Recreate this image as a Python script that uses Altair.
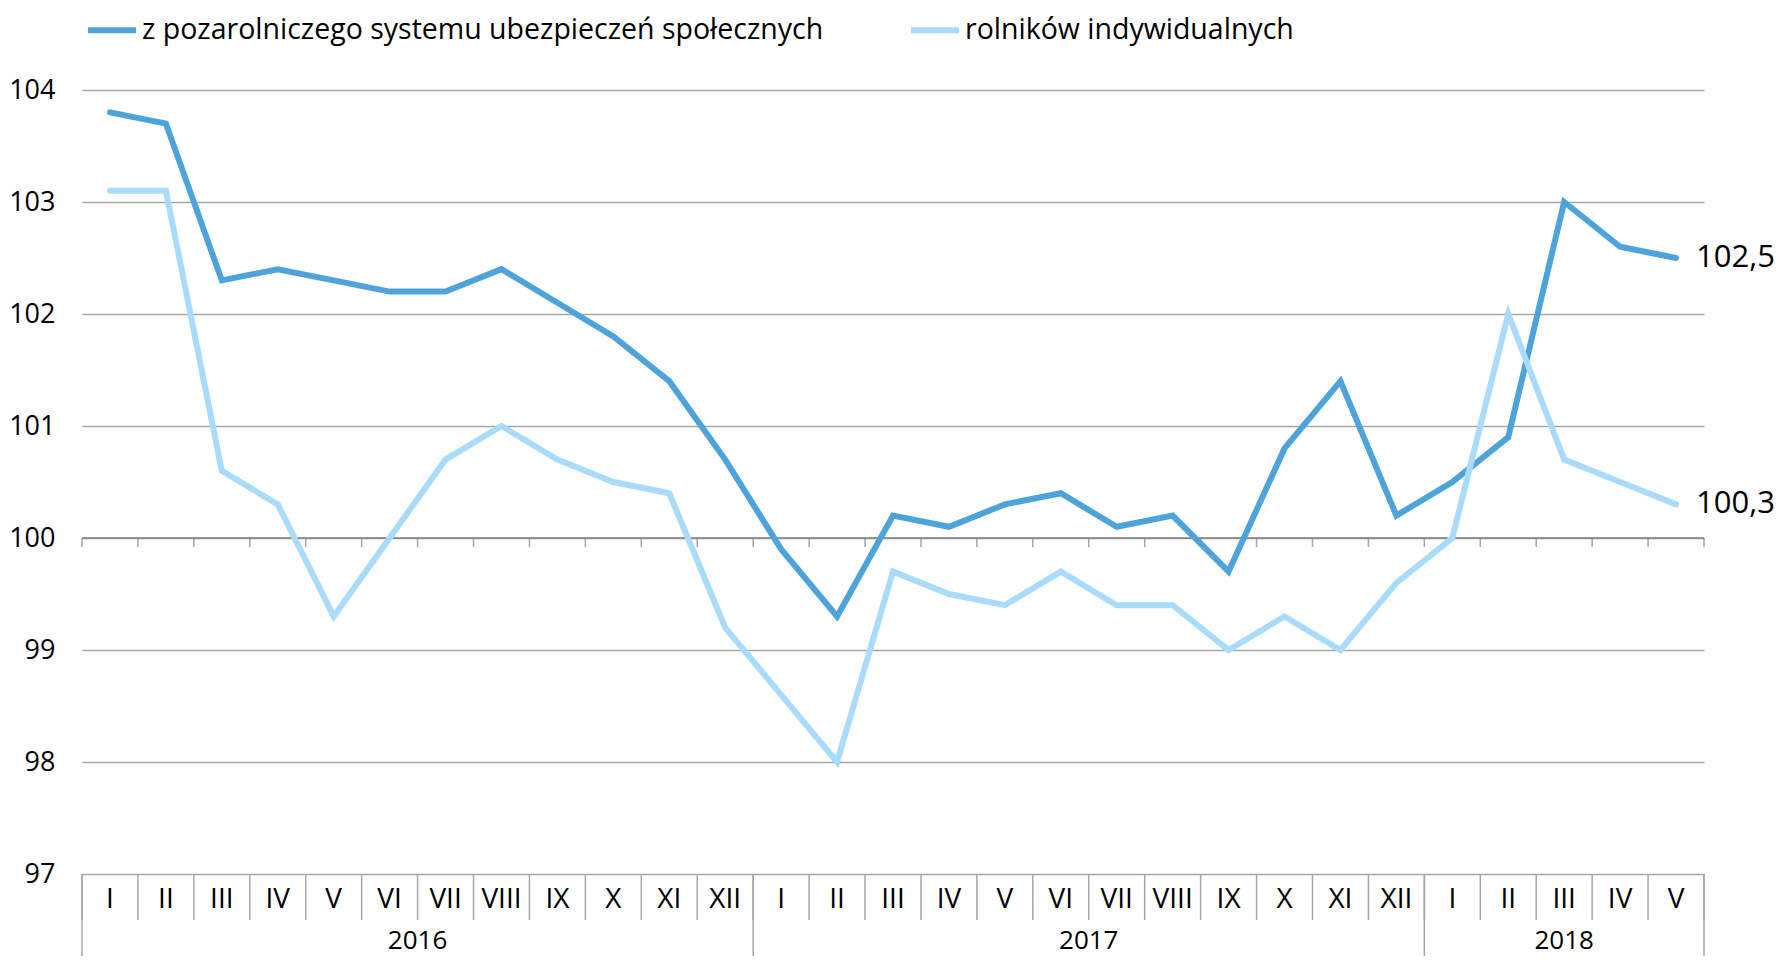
import altair as alt
import pandas as pd

FONT = "Open Sans"

months = ["I", "II", "III", "IV", "V", "VI", "VII", "VIII", "IX", "X", "XI", "XII",
          "I", "II", "III", "IV", "V", "VI", "VII", "VIII", "IX", "X", "XI", "XII",
          "I", "II", "III", "IV", "V"]
years = ["2016"] * 12 + ["2017"] * 12 + ["2018"] * 5

series_names = ["z pozarolniczego systemu ubezpieczeń społecznych", "rolników indywidualnych"]
series_colors = ["#4EA3DA", "#A9DBFD"]

nonagri = [103.8, 103.7, 102.3, 102.4, 102.3, 102.2, 102.2, 102.4, 102.1, 101.8, 101.4, 100.7,
           99.9, 99.3, 100.2, 100.1, 100.3, 100.4, 100.1, 100.2, 99.7, 100.8, 101.4, 100.2,
           100.5, 100.9, 103.0, 102.6, 102.5]
farmers = [103.1, 103.1, 100.6, 100.3, 99.3, 100.0, 100.7, 101.0, 100.7, 100.5, 100.4, 99.2,
           98.6, 98.0, 99.7, 99.5, 99.4, 99.7, 99.4, 99.4, 99.0, 99.3, 99.0, 99.6,
           100.0, 102.0, 100.7, 100.5, 100.3]

y_ticks = [97, 98, 99, 100, 101, 102, 103, 104]
baseline_value = 100

n = len(months)
rows = []
for k, (name, vals) in enumerate(zip(series_names, [nonagri, farmers])):
    for i, v in enumerate(vals):
        rows.append({"i": i, "month": months[i], "year": years[i],
                     "series": name, "order": k, "value": v})
df = pd.DataFrame(rows)
cats = pd.DataFrame({"i": list(range(n)), "month": months, "year": years})
bounds = pd.DataFrame({"b": [i - 0.5 for i in range(n + 1)]})
year_bounds = pd.DataFrame({"b": [-0.5] + [i + 0.5 for i in range(n - 1) if years[i] != years[i + 1]] + [n - 0.5]})

W, H = 1622, 784
GRID = "#A6A6A6"

x_scale = alt.Scale(domain=[-0.5, n - 0.5], nice=False, zero=False)
y_scale = alt.Scale(domain=[min(y_ticks), max(y_ticks)], nice=False, zero=False)

X = lambda f: alt.X(f, scale=x_scale, axis=None)

lines = alt.Chart(df).mark_line(strokeWidth=6, strokeCap="round").encode(
    x=X("i:Q"),
    y=alt.Y("value:Q", scale=y_scale,
            axis=alt.Axis(values=y_ticks, format="d", grid=True, gridColor=GRID, gridWidth=1.5,
                          domain=False, ticks=False, labelFontSize=27, labelPadding=27,
                          labelColor="black", labelFont=FONT, title=None)),
    color=alt.Color("series:N",
                    scale=alt.Scale(domain=series_names, range=series_colors),
                    legend=alt.Legend(orient="none", legendX=3, legendY=-87,
                                      direction="horizontal", title=None,
                                      symbolType="stroke", symbolSize=2304,
                                      symbolStrokeWidth=6, labelFontSize=28.5,
                                      labelFont=FONT, labelColor="black", labelLimit=0,
                                      columnPadding=75, labelOffset=3)),
    order=alt.Order("order:Q"),
    detail="series:N",
)

hundred = alt.Chart(pd.DataFrame({"v": [baseline_value]})).mark_rule(
    color="#7F7F7F", strokeWidth=1.5).encode(y=alt.Y("v:Q", scale=y_scale))

hundred_ticks = alt.Chart(bounds).mark_tick(
    orient="vertical", size=9, thickness=1.5, color="#7F7F7F", yOffset=4.5).encode(
    x=X("b:Q"), y=alt.Y(datum=baseline_value, scale=y_scale))

month_sep = alt.Chart(bounds).mark_rule(color=GRID, strokeWidth=1.5).encode(
    x=X("b:Q"), y=alt.value(H), y2=alt.value(H + 46))

year_sep = alt.Chart(year_bounds).mark_rule(color=GRID, strokeWidth=1.5).encode(
    x=X("b:Q"), y=alt.value(H), y2=alt.value(H + 90))

month_text = alt.Chart(cats).mark_text(fontSize=28, font=FONT, color="black",
                                       baseline="middle").encode(
    x=X("i:Q"), y=alt.value(H + 26), text="month:N")

year_text = alt.Chart(cats).transform_aggregate(
    c="mean(i)", groupby=["year"]).mark_text(fontSize=26, font=FONT, color="black",
                                             baseline="middle").encode(
    x=X("c:Q"), y=alt.value(H + 67), text="year:N")

end_labels = alt.Chart(df).transform_filter(
    alt.datum.i == n - 1).transform_calculate(
    lab="replace(format(datum.value, '.1f'), '.', ',')").mark_text(
    fontSize=31, font=FONT, color="black", align="left", baseline="middle", dx=20).encode(
    x=X("i:Q"), y=alt.Y("value:Q", scale=y_scale), text="lab:N")

chart = alt.layer(hundred, hundred_ticks, month_sep, year_sep, month_text, year_text,
                  lines, end_labels).properties(
    width=W, height=H,
    autosize=alt.AutoSizeParams(type="none"),
    padding={"left": 74, "top": 82, "right": 72, "bottom": 82},
    background="white",
).configure_view(stroke=None)

chart.save("out.html", embed_options={"renderer": "svg", "actions": False})
